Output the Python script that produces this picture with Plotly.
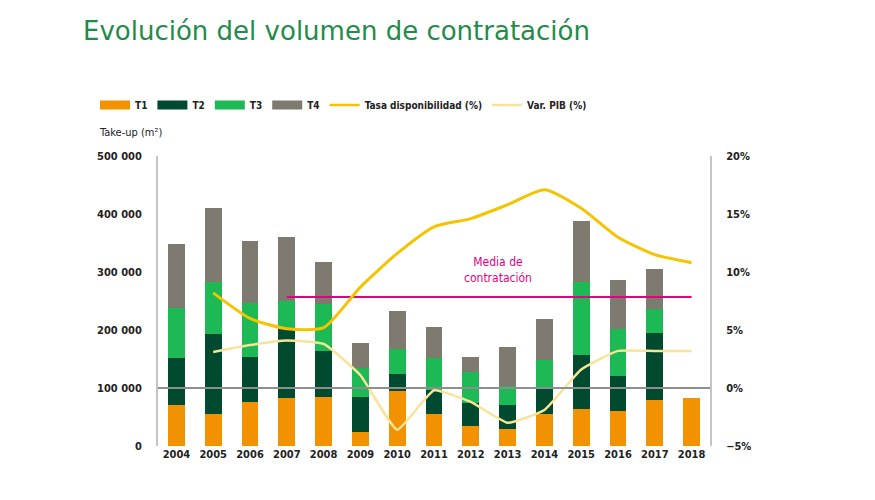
import plotly.graph_objects as go

years = [str(y) for y in range(2004, 2019)]
t1 = [70000, 55000, 76000, 82000, 85000, 25000, 94000, 55000, 34000, 30000, 55000, 63000, 61000, 79000, 82000]
t2 = [82000, 138000, 77000, 121000, 78000, 60000, 31000, 42000, 40000, 40000, 44000, 94000, 60000, 115000, 0]
t3 = [86000, 89000, 94000, 47000, 82000, 50000, 42000, 54000, 53000, 33000, 49000, 126000, 81000, 42000, 0]
t4 = [110000, 129000, 106000, 111000, 73000, 43000, 65000, 54000, 27000, 68000, 71000, 105000, 84000, 69000, 0]
tasa_years = years[1:]
tasa = [8.2, 6.0, 5.1, 5.2, 8.7, 11.6, 13.9, 14.6, 15.8, 17.1, 15.5, 13.0, 11.5, 10.8]
pib_years = years[1:]
pib = [3.1, 3.7, 4.1, 3.8, 1.1, -3.6, -0.2, -1.2, -3.0, -1.9, 1.6, 3.2, 3.2, 3.2]
media_years = years[3:]
media = [257000] * len(media_years)

C_T1 = "#F39200"
C_T2 = "#004A2F"
C_T3 = "#1DB954"
C_T4 = "#7F7A70"
C_TASA = "#F5C400"
C_PIB = "#F8E39A"
C_MEDIA = "#E5007D"

FONT = "DejaVu Sans Condensed, Liberation Sans Narrow, Liberation Sans, sans-serif"
TXT = "#222222"

fig = go.Figure()
for name, vals, col in [("T1", t1, C_T1), ("T2", t2, C_T2), ("T3", t3, C_T3), ("T4", t4, C_T4)]:
    fig.add_trace(go.Bar(x=years, y=vals, name=name, marker=dict(color=col, line=dict(width=0)),
                         showlegend=False))
fig.add_trace(go.Scatter(x=media_years, y=media, mode="lines", line=dict(color=C_MEDIA, width=2),
                         showlegend=False))
fig.add_trace(go.Scatter(x=tasa_years, y=tasa, mode="lines", yaxis="y2",
                         line=dict(color=C_TASA, width=3, shape="spline", smoothing=0.6),
                         showlegend=False))
fig.add_trace(go.Scatter(x=pib_years, y=pib, mode="lines", yaxis="y2",
                         line=dict(color=C_PIB, width=2.5, shape="spline", smoothing=0.4),
                         showlegend=False))

# legend entries (wide swatches)
for name, col, w in [("T1", C_T1, 9), ("T2", C_T2, 9), ("T3", C_T3, 9), ("T4", C_T4, 9),
                     ("Tasa disponibilidad (%)", C_TASA, 2.5), ("Var. PIB (%)", C_PIB, 2.5)]:
    fig.add_trace(go.Scatter(x=[None], y=[None], mode="lines", name=name,
                             line=dict(color=col, width=w), showlegend=True))

fig.add_shape(type="line", xref="paper", x0=0, x1=1, yref="y2", y0=0, y1=0,
              line=dict(color="#8E8E8E", width=2), layer="above")

fig.add_annotation(text="Media de<br>contratación", xref="paper", yref="paper",
                   x=0.616, y=0.607, showarrow=False,
                   font=dict(family=FONT, size=12, color=C_MEDIA))
fig.add_annotation(text="Take-up (m²)", xref="paper", yref="paper",
                   x=-0.11, y=(446 - 132) / 290, xanchor="left", yanchor="middle", showarrow=False,
                   font=dict(family=FONT, size=11, color=TXT))

tickfont = dict(family=FONT, size=11, color=TXT, weight="bold")

fig.update_layout(
    width=875, height=500,
    margin=dict(l=158, r=165, t=156, b=54),
    paper_bgcolor="white", plot_bgcolor="white",
    barmode="stack", bargap=0.54,
    separators=", ",
    title=dict(text="Evolución del volumen de contratación", x=83 / 875, xanchor="left",
               xref="container", y=1 - 31 / 500, yanchor="middle",
               font=dict(family="DejaVu Sans", size=26, color="#1E8C4A")),
    font=dict(family=FONT, size=11, color=TXT),
    xaxis=dict(type="category", showgrid=False, showline=False, ticks="",
               tickfont=tickfont, range=[-0.5, 14.5]),
    yaxis=dict(range=[0, 500000], dtick=100000, tickformat=",.0f", showgrid=False,
               showline=True, linecolor="#C4C4C4", linewidth=2, zeroline=False, ticks="",
               ticklabelstandoff=12, tickfont=tickfont),
    yaxis2=dict(range=[-5, 20], dtick=5, ticksuffix="%", overlaying="y", side="right",
                showgrid=False, showline=True, linecolor="#C4C4C4", linewidth=2,
                zeroline=False, ticks="", ticklabelstandoff=12, tickfont=tickfont),
    legend=dict(orientation="h", x=(95 - 158) / 552, xanchor="left", y=(446 - 105) / 290,
                yanchor="middle", font=dict(family=FONT, size=10, color=TXT, weight="bold"),
                itemwidth=30, bgcolor="rgba(0,0,0,0)", traceorder="normal"),
    showlegend=True,
)

fig.write_html("out.html", config={"displayModeBar": False},
               post_script="document.body.style.margin='0';")
